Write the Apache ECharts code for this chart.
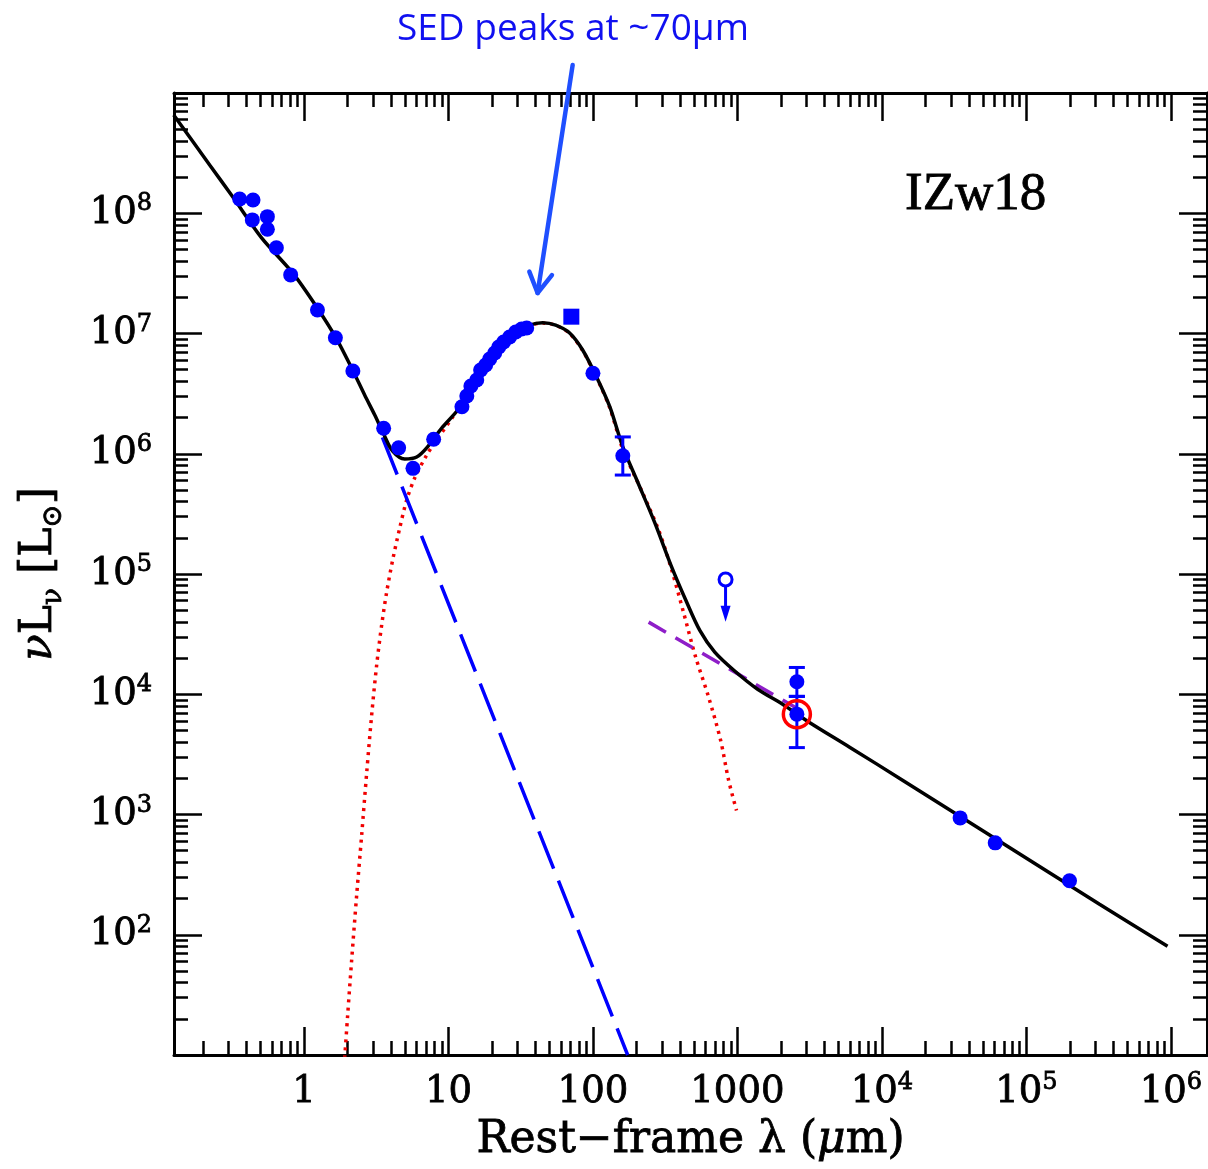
<!DOCTYPE html>
<html><head><meta charset="utf-8">
<script src="https://cdn.jsdelivr.net/npm/echarts@6/dist/echarts.min.js"></script>
<style>html,body{margin:0;padding:0;background:#fff}#chart{width:1208px;height:1169px}</style>
</head><body><div id="chart"></div>
<script>
// ---------------- data (wavelength in µm, νLν in L☉) ----------------
const xRange = [0.126, 1.78e6];
const yRange = [10, 1e9];
const xMajorTicks = [1, 10, 100, 1000, 1e4, 1e5, 1e6];
const xTickLabels = ['1', '10', '100', '1000', '10^4', '10^5', '10^6'];
const yMajorTicks = [1e2, 1e3, 1e4, 1e5, 1e6, 1e7, 1e8];
const yTickLabels = ['10^2', '10^3', '10^4', '10^5', '10^6', '10^7', '10^8'];

// photometry (filled circles)
const photWave = [0.359, 0.444, 0.439, 0.558, 0.558, 0.644, 0.809, 1.24, 1.65, 2.18, 3.56, 4.52, 5.68, 7.9, 100, 3.48e4, 6.09e4, 1.99e5];
const photLum  = [1.315e8, 1.29e8, 8.8e7, 9.37e7, 7.36e7, 5.17e7, 3.07e7, 1.57e7, 9.23e6, 4.88e6, 1.63e6, 1.12e6, 7.56e5, 1.32e6, 4.67e6, 937, 581, 281];
// mid-IR spectrum samples
const irsWave = [12.4, 13.4, 14.3, 15.7, 16.7, 18.1, 19.3, 20.9, 22.3, 24.1, 26.5, 29.2, 32.1, 34.8];
const irsLum  = [2.46e6, 3.02e6, 3.66e6, 4.1e6, 4.97e6, 5.47e6, 6.14e6, 6.89e6, 7.73e6, 8.5e6, 9.35e6, 1.03e7, 1.09e7, 1.11e7];
// points with error bars
const errWave = [161, 2580, 2580];
const errLum  = [9.62e5, 1.27e4, 6.83e3];
const errLow  = [6.65e5, 9.6e3, 3.6e3];
const errHigh = [1.38e6, 1.67e4, 9.6e3];
// square point
const sqWave = [70.9];
const sqLum  = [1.38e7];
// upper limit
const ulWave = [828];
const ulLum  = [9.0e4];
const ulTo   = [4.0e4];
// highlighted point (red circle)
const hlWave = [2580];
const hlLum  = [6.83e3];

// total model (black)
const modelWave = [0.1254, 0.2225, 0.321, 0.509, 0.835, 1.224, 1.685, 2.17, 2.63, 3.09, 3.56, 4.11, 4.98, 6.03, 7.07, 9.12, 11.6, 14.5, 18.4, 23.3, 29.2, 36.5, 44.9, 55.2, 69.0, 84.9, 106, 131, 161, 204, 267, 351, 439, 548, 697, 958, 1380, 2056, 3055, 5980, 1.39e4, 6.52e4, 3.21e5, 9.49e5];
const modelLum  = [6.57e8, 2.52e8, 1.37e8, 6.24e7, 3.19e7, 1.66e7, 8.99e6, 4.97e6, 3.08e6, 2.10e6, 1.46e6, 1.05e6, 9.04e5, 9.39e5, 1.12e6, 1.67e6, 2.31e6, 3.52e6, 5.47e6, 7.87e6, 1.01e7, 1.175e7, 1.23e7, 1.175e7, 1.01e7, 7.29e6, 4.35e6, 2.45e6, 1.14e6, 5.82e5, 2.70e5, 1.14e5, 6.07e4, 3.41e4, 2.24e4, 1.56e4, 1.10e4, 8.27e3, 5.97e3, 3.63e3, 1.93e3, 600, 179, 80.2];
// dust component (red dotted)
const dustWave = [1.913, 2.006, 2.138, 2.316, 2.508, 2.716, 2.941, 3.185, 3.449, 3.736, 4.11, 4.60, 5.14, 5.84, 7.07, 8.29, 10.7, 14.5, 18.4, 23.3, 29.2, 36.5, 44.9, 55.2, 69.0, 84.9, 106, 131, 161, 221, 285, 351, 425, 514, 632, 765, 869, 986];
const dustLum  = [9.4, 21.4, 61.4, 213, 673, 2208, 6699, 1.746e4, 3.76e4, 7.07e4, 1.306e5, 2.41e5, 4.12e5, 6.28e5, 9.75e5, 1.30e6, 2.02e6, 3.39e6, 5.31e6, 7.73e6, 1.0e7, 1.17e7, 1.22e7, 1.17e7, 1.0e7, 7.22e6, 4.30e6, 2.40e6, 1.09e6, 4.71e5, 2.32e5, 1.08e5, 4.73e4, 2.04e4, 9.46e3, 4.15e3, 1.93e3, 1.08e3];
// stellar component (blue long dash)
const starWave = [3.49, 174];
const starLum  = [1.37e6, 10];
// radio component (purple dash)
const radioWave = [243, 2576];
const radioLum  = [3.98e4, 7.66e3];
// annotation arrow (from, to)
const arrowFrom = [72.4, 1.71e9];
const arrowTo   = [41.4, 2.17e7];

// ---------------- helpers ----------------
const L = Math.log10;
const pairs = (w, l) => w.map((v, i) => [L(v), L(l[i])]);
function minorTicks(lo, hi) {
  const out = [];
  for (let n = Math.floor(L(lo)); n <= Math.ceil(L(hi)); n++)
    for (let k = 2; k <= 9; k++) { const v = k * Math.pow(10, n); if (v > lo && v < hi) out.push(L(v)); }
  return out;
}
function richLabel(s) {
  const m = s.split('^');
  return m.length > 1 ? `{b|${m[0]}}{s|${m[1]}}` : `{b|${s}}`;
}
const SERIF = 'DejaVu Serif';
const heavy = {textBorderColor: '#000', textBorderWidth: 0.8};
const labelRich = {
  b: Object.assign({fontFamily: SERIF, fontSize: 37, color: '#000', lineHeight: 42}, heavy),
  s: Object.assign({fontFamily: SERIF, fontSize: 24, color: '#000', lineHeight: 26, verticalAlign: 'top'}, heavy)
};
const xMin = L(xRange[0]), xMax = L(xRange[1]), yMin = L(yRange[0]), yMax = L(yRange[1]);
const xMaj = xMajorTicks.map(L), yMaj = yMajorTicks.map(L);
const xMin2 = minorTicks(xRange[0], xRange[1]), yMin2 = minorTicks(yRange[0], yRange[1]);

function makeAxis(dim, pos, ticks, len, opts) {
  const ax = {
    type: 'value', position: pos, min: dim === 'x' ? xMin : yMin, max: dim === 'x' ? xMax : yMax,
    splitLine: {show: false},
    axisLine: {show: !!opts.line, onZero: false, lineStyle: {color: '#000', width: 3}},
    axisTick: {show: true, inside: true, length: len, customValues: ticks, lineStyle: {color: '#000', width: 2.5}},
    axisLabel: {show: false}
  };
  if (opts.labels) {
    const vals = dim === 'x' ? xMaj : yMaj;
    const txt = dim === 'x' ? xTickLabels : yTickLabels;
    ax.axisLabel = {
      show: true, customValues: vals, margin: dim === 'x' ? 16 : 22, rich: labelRich,
      formatter: v => { const i = vals.findIndex(t => Math.abs(t - v) < 1e-6); return i >= 0 ? richLabel(txt[i]) : ''; }
    };
  }
  return Object.assign(ax, opts.extra || {});
}

const xAxes = [
  makeAxis('x', 'bottom', xMaj, 28, {line: true, labels: true, extra: {
    name: 'Rest−frame λ ({it|μ}m)', nameLocation: 'middle', nameGap: 64,
    nameTextStyle: Object.assign({fontFamily: SERIF, fontSize: 44, color: '#000',
      rich: {it: Object.assign({fontFamily: SERIF, fontSize: 44, fontStyle: 'italic', color: '#000'}, heavy)}}, heavy)
  }}),
  makeAxis('x', 'bottom', xMin2, 14, {}),
  makeAxis('x', 'top', xMaj, 28, {line: true}),
  makeAxis('x', 'top', xMin2, 14, {})
];
const yAxes = [
  makeAxis('y', 'left', yMaj, 28, {line: true, labels: true, extra: {
    name: '{it|ν}{n|L}{sub|ν} {n|[L}{sub|⊙}{n|]}', nameLocation: 'middle', nameGap: 106, nameRotate: 90,
    nameTextStyle: Object.assign({fontFamily: SERIF, fontSize: 44, color: '#000', rich: {
      it: Object.assign({fontFamily: SERIF, fontSize: 44, fontStyle: 'italic', color: '#000', lineHeight: 56}, heavy),
      n: Object.assign({fontFamily: SERIF, fontSize: 44, color: '#000', lineHeight: 56}, heavy),
      sub: Object.assign({fontFamily: SERIF, fontSize: 28, color: '#000', lineHeight: 30, verticalAlign: 'bottom'}, heavy)
    }}, heavy)
  }}),
  makeAxis('y', 'left', yMin2, 14, {}),
  makeAxis('y', 'right', yMaj, 28, {line: true}),
  makeAxis('y', 'right', yMin2, 14, {})
];

const BLUE = '#0000ff';
const option = {
  animation: false,
  backgroundColor: '#fff',
  title: [
    {text: 'SED peaks at ~70µm', left: 392, top: 6,
     textStyle: {fontFamily: 'Open Sans', fontSize: 37, fontWeight: 'normal', color: '#1010f0'}},
    {text: 'IZw18', left: 900, top: 164,
     textStyle: Object.assign({fontFamily: 'Liberation Serif', fontSize: 53, fontWeight: 'normal', color: '#000'}, heavy)}
  ],
  grid: {left: 174, right: 1, top: 93, bottom: 114, containLabel: false},
  xAxis: xAxes,
  yAxis: yAxes,
  series: [
    {type: 'line', data: pairs(dustWave, dustLum), smooth: 0.3, symbol: 'none',
     lineStyle: {color: '#f00000', width: 3.5, type: [3, 5]}, z: 2},
    {type: 'line', data: pairs(starWave, starLum), symbol: 'none',
     lineStyle: {color: BLUE, width: 3.5, type: [40, 13]}, z: 2},
    {type: 'line', data: pairs(radioWave, radioLum), symbol: 'none',
     lineStyle: {color: '#8e1ec8', width: 3.5, type: [20, 11]}, z: 2},
    {type: 'line', data: pairs(modelWave, modelLum), smooth: 0.3, symbol: 'none',
     lineStyle: {color: '#000', width: 3.5}, z: 3},
    {type: 'custom', z: 4, data: errWave.map((w, i) => [L(w), L(errLum[i]), L(errLow[i]), L(errHigh[i])]),
     renderItem: (p, api) => {
       const x = api.value(0);
       const lo = api.coord([x, api.value(2)]), hi = api.coord([x, api.value(3)]);
       const c = 8, st = {stroke: BLUE, lineWidth: 3};
       return {type: 'group', children: [
         {type: 'line', shape: {x1: lo[0], y1: lo[1], x2: hi[0], y2: hi[1]}, style: st},
         {type: 'line', shape: {x1: lo[0] - c, y1: lo[1], x2: lo[0] + c, y2: lo[1]}, style: st},
         {type: 'line', shape: {x1: hi[0] - c, y1: hi[1], x2: hi[0] + c, y2: hi[1]}, style: st}
       ]};
     }},
    {type: 'scatter', data: pairs(photWave, photLum).concat(pairs(irsWave, irsLum), pairs(errWave, errLum)),
     symbol: 'circle', symbolSize: 15, itemStyle: {color: BLUE, opacity: 1}, z: 5},
    {type: 'scatter', data: pairs(sqWave, sqLum), symbol: 'rect', symbolSize: 16, itemStyle: {color: BLUE, opacity: 1}, z: 5},
    {type: 'custom', z: 5, data: ulWave.map((w, i) => [L(w), L(ulLum[i]), L(ulTo[i])]),
     renderItem: (p, api) => {
       const c = api.coord([api.value(0), api.value(1)]), t = api.coord([api.value(0), api.value(2)]);
       const r = 6.5;
       return {type: 'group', children: [
         {type: 'line', shape: {x1: c[0], y1: c[1] + r, x2: t[0], y2: t[1] - 6}, style: {stroke: BLUE, lineWidth: 3}},
         {type: 'polygon', shape: {points: [[t[0] - 5, t[1] - 16], [t[0] + 5, t[1] - 16], [t[0], t[1]]]}, style: {fill: BLUE}},
         {type: 'circle', shape: {cx: c[0], cy: c[1], r: r}, style: {fill: '#fff', stroke: BLUE, lineWidth: 3}}
       ]};
     }},
    {type: 'scatter', data: pairs(hlWave, hlLum), symbol: 'circle', symbolSize: 27,
     itemStyle: {color: 'rgba(0,0,0,0)', borderColor: '#ff0000', borderWidth: 3.5, opacity: 1}, z: 6},
    {type: 'custom', z: 7, clip: false, data: [[L(arrowFrom[0]), L(arrowFrom[1]), L(arrowTo[0]), L(arrowTo[1])]],
     renderItem: (p, api) => {
       const p0 = api.coord([api.value(0), api.value(1)]), p1 = api.coord([api.value(2), api.value(3)]);
       const a = Math.atan2(p1[1] - p0[1], p1[0] - p0[0]), len = 23, sp = 0.52;
       const a1 = [p1[0] - len * Math.cos(a - sp), p1[1] - len * Math.sin(a - sp)];
       const a2 = [p1[0] - len * Math.cos(a + sp), p1[1] - len * Math.sin(a + sp)];
       const st = {stroke: '#1f4fff', lineWidth: 4.5, lineCap: 'round', lineJoin: 'round', fill: null};
       return {type: 'group', children: [
         {type: 'line', shape: {x1: p0[0], y1: p0[1], x2: p1[0], y2: p1[1]}, style: st},
         {type: 'polyline', shape: {points: [a1, p1, a2]}, style: st}
       ]};
     }}
  ]
};
const chart = echarts.init(document.getElementById('chart'), null, {renderer: 'canvas'});
chart.setOption(option);
</script>
</body></html>
